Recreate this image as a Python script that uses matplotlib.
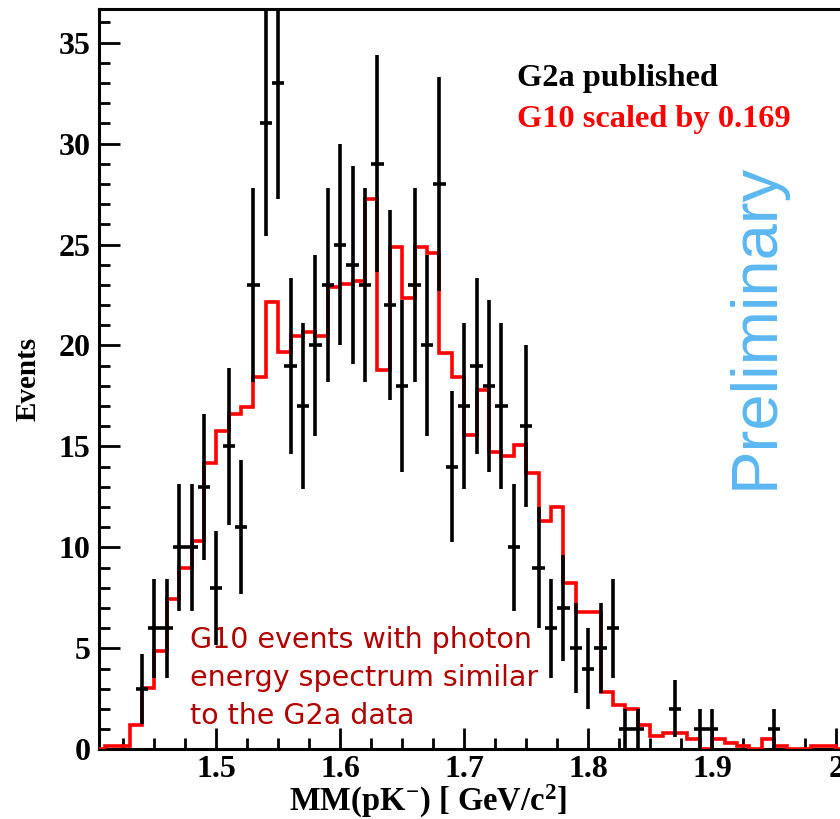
import numpy as np
import matplotlib
matplotlib.use("Agg")
import matplotlib.pyplot as plt
from matplotlib.ticker import MultipleLocator

# G2a published counts, one per 0.01 GeV bin centred on these masses
g2a_mass = np.round(np.arange(1.44, 1.955, 0.01), 2)
g2a_counts = np.array([
    3, 6, 6, 10, 10, 13, 8, 15, 11, 23,
    31, 33, 19, 17, 20, 23, 25, 24, 23, 29,
    22, 18, 23, 20, 28, 14, 17, 19, 18, 17,
    10, 16, 9, 6, 7, 5, 4, 5, 6, 1,
    1, 0, 0, 2, 0, 1, 1, 0, 0, 0,
    0, 1,
])

# G10 histogram scaled by 0.169, bin edges 1.40 .. 2.01
g10_edges = np.round(np.arange(1.40, 2.015, 0.01), 2)
g10_scaled = np.array([
    0.0, 0.17, 0.17, 1.18, 3.04, 4.87, 7.44, 8.96, 10.3, 14.2,
    15.76, 16.6, 16.94, 18.46, 22.15, 19.66, 20.49, 20.67, 20.49, 22.91,
    23.03, 23.19, 27.27, 18.79, 24.89, 22.37, 24.89, 24.56, 19.64, 18.46,
    15.57, 17.8, 14.72, 14.55, 15.07, 13.7, 11.32, 11.98, 8.25, 6.78,
    6.78, 2.85, 2.17, 2.02, 1.18, 0.66, 0.82, 0.82, 0.49, 0.0,
    0.49, 0.32, 0.16, 0.0, 0.49, 0.16, 0.0, 0.0, 0.16, 0.16,
    0.0,
])

plt.rcParams['font.family'] = ['Liberation Serif', 'DejaVu Serif']
plt.rcParams['font.weight'] = 'bold'
plt.rcParams['mathtext.fontset'] = 'custom'
plt.rcParams['mathtext.rm'] = 'Liberation Serif:bold'
plt.rcParams['mathtext.it'] = 'Liberation Serif:bold'
plt.rcParams['mathtext.bf'] = 'Liberation Serif:bold'

fig = plt.figure(figsize=(8.4, 8.19), dpi=100)
ax = fig.add_axes([99 / 840, 69.7 / 819, 741 / 840, 740 / 819])

ax.stairs(g10_scaled, g10_edges, color='#ff0000', linewidth=2.6, baseline=None, zorder=3)

mask = g2a_counts > 0
ax.errorbar(g2a_mass[mask], g2a_counts[mask], xerr=0.005,
            yerr=np.sqrt(g2a_counts[mask]), fmt='none',
            ecolor='black', elinewidth=2.6, capsize=0, zorder=4)

ax.set_xlim(1.4054, 2.003)
ax.set_ylim(0, 36.65)

ax.xaxis.set_major_locator(MultipleLocator(0.1))
ax.xaxis.set_minor_locator(MultipleLocator(0.025))
ax.yaxis.set_major_locator(MultipleLocator(5))
ax.yaxis.set_minor_locator(MultipleLocator(1))
ax.xaxis.set_major_formatter(plt.FuncFormatter(lambda v, p: f'{v:g}'))
ax.tick_params(which='both', direction='in', width=2, top=False, right=False,
               labelsize=23)
ax.tick_params(which='major', length=15, pad=6)
ax.tick_params(axis='x', which='major', pad=4)
ax.tick_params(which='minor', length=8)
for lab in ax.get_xticklabels() + ax.get_yticklabels():
    lab.set_fontweight('bold')

for side in ('left', 'bottom', 'top'):
    ax.spines[side].set_linewidth(2.2)
ax.spines['right'].set_visible(False)

ax.set_xlabel(r'MM(pK$^{-}$) [ GeV/c$^{2}$]', fontsize=23.5, fontweight='bold')
ax.xaxis.set_label_coords(0.444, -0.046)
ax.set_ylabel('Events', fontsize=21, fontweight='bold')
ax.yaxis.set_label_coords(-0.078, 0.5)

ax.text(0.564, 0.906, 'G2a published', transform=ax.transAxes,
        fontsize=23.3, fontweight='bold', color='black', va='center')
ax.text(0.564, 0.851, 'G10 scaled by 0.169', transform=ax.transAxes,
        fontsize=23.3, fontweight='bold', color='#ff0000', va='center')

ax.text(0.886, 0.572, 'Preliminary', transform=ax.transAxes, rotation=90,
        family='Liberation Sans', fontweight='normal', fontsize=47,
        color='#5cb8f2', ha='center', va='center')

ax.text(0.123, 0.166,
        'G10 events with photon\nenergy spectrum similar\nto the G2a data',
        transform=ax.transAxes, family='DejaVu Sans', fontweight='normal',
        fontsize=20.5, color='#b00000', ha='left', va='top', linespacing=1.45)

fig.savefig('out.png', dpi=100)
